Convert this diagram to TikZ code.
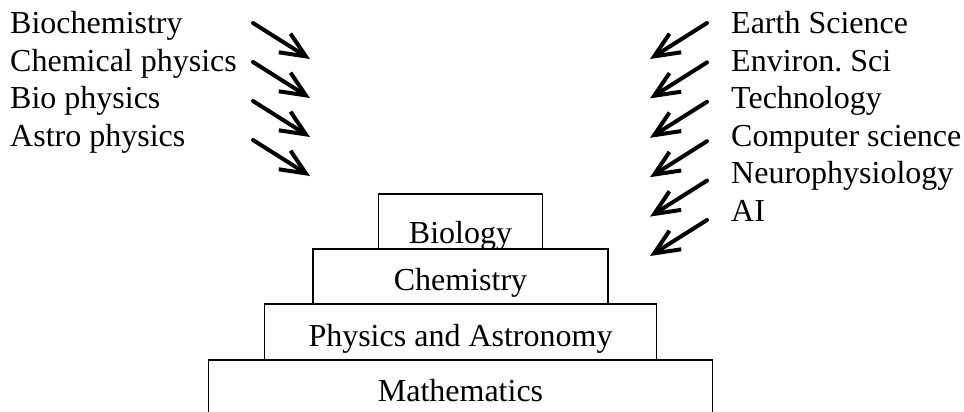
\documentclass[tikz,border=0pt]{standalone}
\usepackage{fontspec}
\setmainfont{Liberation Serif}
\usetikzlibrary{positioning, arrows.meta}

\begin{document}
\begin{tikzpicture}[
  x=1pt, y=-1pt,
  font=\fontsize{32}{38}\selectfont\frenchspacing,
  >={Straight Barb[length=25pt,width=22pt]},
  layer/.style={
    draw=black, fill=white, line width=1.8pt,
    inner sep=0pt, outer sep=0pt, align=center
  },
  lbl/.style={inner sep=0pt, anchor=base west},
  arr/.style={->, line width=4pt, line cap=round},
]
\useasboundingbox (0,0) rectangle (964,412);

% the stack of sciences, top down
\node[layer, minimum width=164pt, minimum height=55pt,
      text height=49pt, text depth=6pt] (bio) at (460.5,221.5) {Biology};
\node[layer, below=0pt of bio, minimum width=295pt, minimum height=55pt,
      text height=41pt, text depth=14pt] (chem) {Chemistry};
\node[layer, below=0pt of chem, minimum width=392pt, minimum height=56pt,
      text height=42pt, text depth=14pt] (phys) {Physics and Astronomy};
\node[layer, draw=none, below=0pt of phys, minimum width=504pt, minimum height=52pt,
      text height=41pt, text depth=11pt] (math) {Mathematics};
\draw[line width=1.8pt] (math.south west) -- (math.north west)
  -- (math.north east) -- (math.south east);

% fields coming in from the left
\foreach \t [count=\i from 0] in {Biochemistry, Chemical physics, Bio physics, Astro physics}
  \node[lbl] (west\i) at (10, 34+37.4*\i) {\t};
\foreach \i in {0,...,3} {
  \coordinate (wtail\i) at (253, 23+39*\i);
  \draw[arr] (wtail\i) -- ++(57,36);
}

% fields coming in from the right
\foreach \t [count=\i from 0] in {Earth Science, Environ. Sci, Technology,
    Computer science, Neurophysiology, AI}
  \node[lbl] (east\i) at (731, 34+37.4*\i) {\t};
\foreach \i in {0,...,5} {
  \coordinate (etail\i) at (707, 23+39.4*\i);
  \draw[arr] (etail\i) -- ++(-57,36);
}

\end{tikzpicture}
\end{document}
